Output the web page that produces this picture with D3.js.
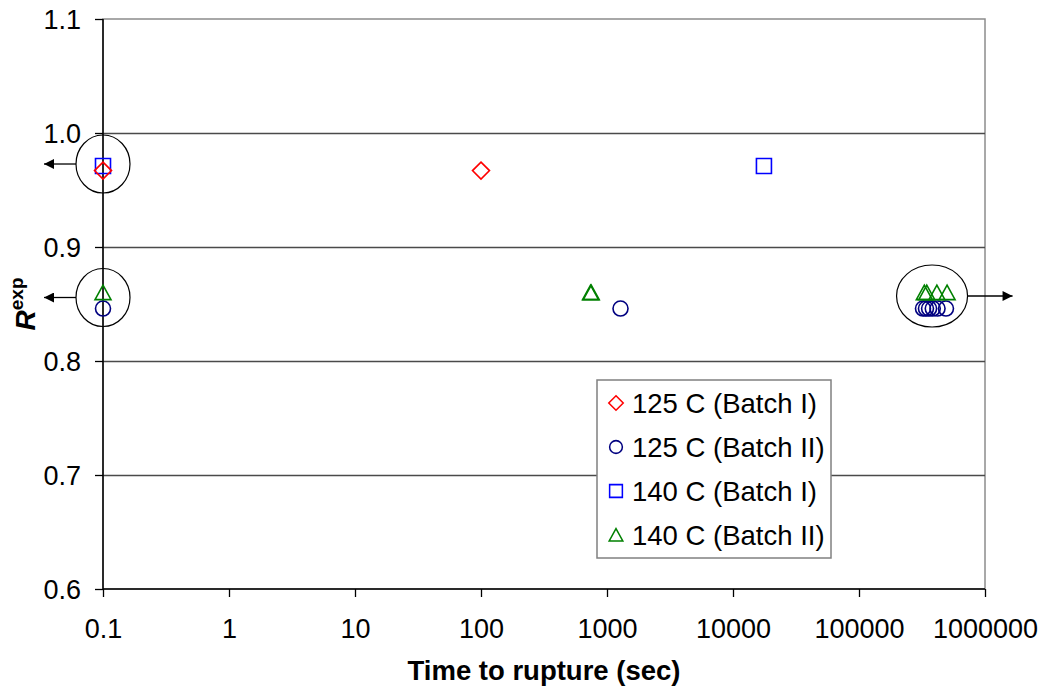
<!DOCTYPE html>
<html>
<head>
<meta charset="utf-8">
<script src="https://cdn.jsdelivr.net/npm/d3@7"></script>
<style>
  body { margin: 0; background: #fff; }
  svg text { font-family: Arial, "Liberation Sans", sans-serif; }
</style>
</head>
<body>
<svg id="chart" width="1044" height="689"></svg>
<script>
// data
const seriesNames = ["125 C (Batch I)", "125 C (Batch II)", "140 C (Batch I)", "140 C (Batch II)"];
const seriesColors = ["#ff0000", "#000080", "#0000ff", "#008000"];
const seriesShapes = ["diamond", "circle", "square", "triangle"];

const time125I = [0.1, 100];
const r125I = [0.967, 0.967];
const time125II = [0.1, 1280, 322000, 340000, 360000, 385000, 420000, 490000];
const r125II = [0.846, 0.846, 0.846, 0.846, 0.846, 0.846, 0.846, 0.846];
const time140I = [0.1, 17600];
const r140I = [0.971, 0.971];
const time140II = [0.1, 740, 750, 330000, 345000, 415000, 500000];
const r140II = [0.86, 0.86, 0.86, 0.86, 0.86, 0.86, 0.86];

const xTicks = [0.1, 1, 10, 100, 1000, 10000, 100000, 1000000];
const xTickLabels = ["0.1", "1", "10", "100", "1000", "10000", "100000", "1000000"];
const yTicks = [0.6, 0.7, 0.8, 0.9, 1.0, 1.1];

// circled groups with arrows (centre in data units)
const noteX = [0.1, 0.1, 380000];
const noteY = [0.9728, 0.8557, 0.857];
const noteDir = [-1, -1, 1];

const series = [
  { x: time125I, y: r125I },
  { x: time125II, y: r125II },
  { x: time140I, y: r140I },
  { x: time140II, y: r140II },
];

const width = 1044, height = 689;
const margin = { top: 19, right: 59, bottom: 100, left: 103 };

const svg = d3.select("#chart");

const x = d3.scaleLog()
  .domain([0.1, 1000000])
  .range([margin.left, width - margin.right]);
const y = d3.scaleLinear()
  .domain([0.6, 1.1])
  .range([height - margin.bottom, margin.top]);

// plot area border
svg.append("rect")
  .attr("x", margin.left)
  .attr("y", margin.top)
  .attr("width", width - margin.left - margin.right)
  .attr("height", height - margin.top - margin.bottom)
  .attr("fill", "none")
  .attr("stroke", "#8c8c8c")
  .attr("stroke-width", 1.5);

// gridlines
svg.append("g")
  .selectAll("line")
  .data(yTicks.filter(d => d > 0.6 && d < 1.1))
  .join("line")
  .attr("x1", margin.left)
  .attr("x2", width - margin.right)
  .attr("y1", d => Math.round(y(d)) + 0.5)
  .attr("y2", d => Math.round(y(d)) + 0.5)
  .attr("stroke", "#4a4a4a")
  .attr("stroke-width", 1.3);

// axes
const yAxis = svg.append("g")
  .attr("transform", `translate(${margin.left},0)`)
  .call(d3.axisLeft(y).tickValues(yTicks).tickFormat(d3.format(".1f")).tickSize(8).tickPadding(14));
const xAxis = svg.append("g")
  .attr("transform", `translate(0,${height - margin.bottom})`)
  .call(d3.axisBottom(x).tickValues(xTicks).tickFormat((d, i) => xTickLabels[i]).tickSize(8).tickPadding(22));

[xAxis, yAxis].forEach(g => {
  g.select(".domain").attr("stroke", "#000").attr("stroke-width", 1.5);
  g.selectAll(".tick line").attr("stroke", "#000").attr("stroke-width", 1.3);
  g.selectAll(".tick text")
    .attr("fill", "#000")
    .style("font-size", "27px");
});
yAxis.selectAll(".tick text").attr("dy", "0.36em");
xAxis.select(".domain").attr("d", `M${margin.left},0H${width - margin.right}`);
yAxis.select(".domain").attr("d", `M0,${margin.top}V${height - margin.bottom}`);

// axis titles
svg.append("text")
  .attr("x", (margin.left + width - margin.right) / 2)
  .attr("y", 680)
  .attr("text-anchor", "middle")
  .style("font-size", "27.5px")
  .style("font-weight", "bold")
  .text("Time to rupture (sec)");

const yTitle = svg.append("text")
  .attr("transform", "translate(35,304) rotate(-90)")
  .attr("text-anchor", "middle")
  .style("font-size", "28px")
  .style("font-weight", "bold");
yTitle.append("tspan").style("font-style", "italic").text("R");
yTitle.append("tspan").attr("dy", -12).style("font-size", "19px").text("exp");

// marker shapes
function markerPath(shape) {
  switch (shape) {
    case "diamond": return "M0,-8.5L8.5,0L0,8.5L-8.5,0Z";
    case "square": return "M-7.5,-7.5H7.5V7.5H-7.5Z";
    case "triangle": return "M0,-7.5L8,7L-8,7Z";
    default: return d3.symbol(d3.symbolCircle, Math.PI * 7.5 * 7.5)();
  }
}

const pts = svg.append("g");
// square behind the diamond at 0.1
[2, 0, 1, 3].forEach(si => {
  const s = series[si];
  pts.append("g")
    .selectAll("path")
    .data(s.x.map((v, i) => [v, s.y[i]]))
    .join("path")
    .attr("transform", d => `translate(${x(d[0])},${y(d[1])})`)
    .attr("d", markerPath(seriesShapes[si]))
    .attr("fill", "none")
    .attr("stroke", seriesColors[si])
    .attr("stroke-width", 1.6);
});

// circled groups and arrows
svg.append("defs").append("marker")
  .attr("id", "arrow")
  .attr("viewBox", "0 0 10 10")
  .attr("refX", 10).attr("refY", 5)
  .attr("markerWidth", 12).attr("markerHeight", 10)
  .attr("markerUnits", "userSpaceOnUse")
  .attr("orient", "auto")
  .append("path")
  .attr("d", "M0,0L10,5L0,10Z")
  .attr("fill", "#000");

const notes = svg.append("g");
noteX.forEach((nx, i) => {
  const cx = x(nx), cy = y(noteY[i]);
  const rx = i === 2 ? 35.5 : 27, ry = i === 2 ? 31 : 29;
  notes.append("ellipse")
    .attr("cx", cx).attr("cy", cy)
    .attr("rx", rx).attr("ry", ry)
    .attr("fill", "none")
    .attr("stroke", "#000")
    .attr("stroke-width", 1.2);
  const x0 = cx + noteDir[i] * rx;
  const len = i === 2 ? 45 : 32;
  notes.append("line")
    .attr("x1", x0).attr("y1", cy)
    .attr("x2", x0 + noteDir[i] * len).attr("y2", cy)
    .attr("stroke", "#000")
    .attr("stroke-width", 1.3)
    .attr("marker-end", "url(#arrow)");
});

// legend
const legend = svg.append("g").attr("transform", "translate(597,380)");
legend.append("rect")
  .attr("width", 234).attr("height", 178)
  .attr("fill", "#fff")
  .attr("stroke", "#808080")
  .attr("stroke-width", 1.5);
seriesNames.forEach((name, i) => {
  const row = legend.append("g").attr("transform", `translate(0,${23 + i * 44})`);
  row.append("path")
    .attr("transform", "translate(19,0) scale(0.85)")
    .attr("d", markerPath(seriesShapes[i]))
    .attr("fill", "none")
    .attr("stroke", seriesColors[i])
    .attr("stroke-width", 1.8);
  row.append("text")
    .attr("x", 35).attr("y", 0)
    .attr("dy", "0.36em")
    .style("font-size", "27.5px")
    .text(name);
});
</script>
</body>
</html>
